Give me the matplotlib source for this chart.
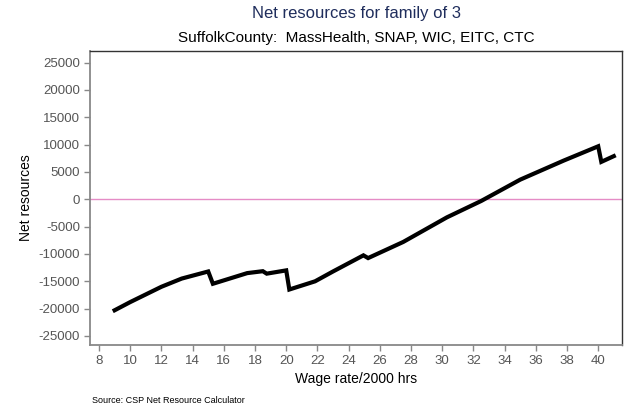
import matplotlib
matplotlib.use('Agg')
import matplotlib.pyplot as plt
import numpy as np

# wage rate ($/hr, 2000 hrs) vs net resources
wage = [9.0, 10.0, 11.0, 12.0, 13.3, 15.0, 15.3, 17.5, 18.5, 18.75, 20.0, 20.2,
        21.85, 23.0, 24.95, 25.25, 27.5, 30.3, 32.5, 35.0, 37.8, 40.0, 40.2, 41.0]
net = [-20300, -18800, -17400, -16000, -14500, -13200, -15450, -13500, -13150,
       -13600, -13000, -16500, -15000, -13200, -10250, -10750, -7800, -3300,
       -300, 3600, 7100, 9700, 6850, 7900]

yticks = np.arange(-25000, 25001, 5000)
xticks = np.arange(8, 41, 2)

plt.rcParams['font.family'] = ['Liberation Sans', 'DejaVu Sans']
plt.rcParams['axes.unicode_minus'] = False

fig = plt.figure(figsize=(6.39, 4.11), dpi=100)
ax = fig.add_axes([0.1408, 0.1606, 0.974 - 0.1408, 0.876 - 0.1606])

ax.axhline(0, color='#e58cc6', lw=1.0, zorder=1)
ax.plot(wage, net, color='black', lw=3.0, solid_joinstyle='miter', zorder=3)

ax.set_xlim(7.42, 41.55)
ax.set_ylim(-26650, 27140)
ax.set_xticks(xticks)
ax.set_yticks(yticks)
ax.tick_params(axis='both', direction='out', length=4, width=1, color='#888888',
               labelcolor='#555555', labelsize=9.5, pad=3)

for side in ['left', 'bottom']:
    ax.spines[side].set_color('#888888')
    ax.spines[side].set_linewidth(1.3)
for side in ['top', 'right']:
    ax.spines[side].set_color('#333333')
    ax.spines[side].set_linewidth(1.0)

ax.set_xlabel('Wage rate/2000 hrs', fontsize=10, labelpad=4)
ax.set_ylabel('Net resources', fontsize=10, labelpad=4)

fig.text(0.5575, 0.968, 'Net resources for family of 3', ha='center', va='center',
         fontsize=12, color='#1f2d5c')
fig.text(0.5575, 0.907, 'SuffolkCounty:  MassHealth, SNAP, WIC, EITC, CTC',
         ha='center', va='center', fontsize=11, color='black')
fig.text(0.144, 0.025, 'Source: CSP Net Resource Calculator', ha='left', va='center',
         fontsize=6.5, color='black')

fig.savefig('out.png', dpi=100)
